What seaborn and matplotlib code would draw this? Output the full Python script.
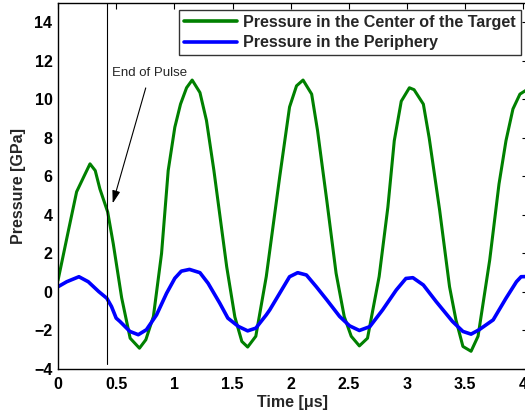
import matplotlib
matplotlib.use("Agg")
import matplotlib.pyplot as plt
import seaborn as sns
import pandas as pd

# ---- data ----
t_center = [0.0, 0.09, 0.16, 0.22, 0.275, 0.32, 0.36, 0.427, 0.475, 0.547, 0.62, 0.70,
            0.755, 0.82, 0.89, 0.947, 1.004, 1.053, 1.105, 1.153, 1.22, 1.276, 1.34,
            1.45, 1.52, 1.58, 1.63, 1.70, 1.79, 1.905, 1.99, 2.05, 2.106, 2.18, 2.23,
            2.31, 2.39, 2.46, 2.52, 2.59, 2.66, 2.76, 2.835, 2.89, 2.95, 3.02, 3.06,
            3.14, 3.19, 3.28, 3.365, 3.42, 3.48, 3.55, 3.61, 3.71, 3.79, 3.85, 3.91,
            3.97, 4.03]
p_center = [0.6, 3.2, 5.2, 5.96, 6.65, 6.3, 5.35, 4.15, 2.5, -0.3, -2.4, -2.92,
            -2.48, -1.27, 2.0, 6.3, 8.55, 9.75, 10.6, 11.0, 10.35, 8.9, 6.3,
            1.3, -1.3, -2.57, -2.86, -2.3, 0.8, 5.96, 9.6, 10.7, 11.0, 10.27, 8.4,
            4.75, 0.97, -1.28, -2.3, -2.8, -2.4, 0.8, 4.4, 7.85, 9.9, 10.6, 10.5,
            9.75, 8.0, 4.24, 0.27, -1.45, -2.83, -3.08, -2.3, 1.65, 5.6, 7.85, 9.5,
            10.27, 10.5]

t_periph = [0.0, 0.075, 0.18, 0.26, 0.35, 0.42, 0.46, 0.50, 0.532, 0.618, 0.69, 0.76,
            0.847, 0.933, 1.004, 1.06, 1.13, 1.22, 1.29, 1.39, 1.46, 1.55, 1.63, 1.70,
            1.79, 1.82, 1.905, 1.99, 2.06, 2.135, 2.22, 2.31, 2.42, 2.506, 2.59, 2.68,
            2.79, 2.907, 2.99, 3.05, 3.14, 3.25, 3.39, 3.48, 3.55, 3.62, 3.74, 3.85,
            3.94, 3.98, 4.03]
p_periph = [0.27, 0.53, 0.79, 0.53, 0.02, -0.33, -0.76, -1.36, -1.53, -2.05, -2.22, -1.96,
            -1.19, -0.07, 0.71, 1.08, 1.17, 1.0, 0.45, -0.58, -1.36, -1.79, -2.02, -1.88,
            -1.19, -0.93, -0.07, 0.79, 1.0, 0.88, 0.27, -0.41, -1.27, -1.76, -2.0, -1.8,
            -0.93, 0.1, 0.7, 0.74, 0.36, -0.5, -1.53, -2.05, -2.19, -1.96, -1.45, -0.33,
            0.53, 0.79, 0.8]

label_center = "Pressure in the Center of the Target"
label_periph = "Pressure in the Periphery"
pulse_end = 0.42
x_ticks = [0, 0.5, 1, 1.5, 2, 2.5, 3, 3.5, 4]
x_ticklabels = ["0", "0.5", "1", "1.5", "2", "2.5", "3", "3.5", "4"]
y_ticks = [-4, -2, 0, 2, 4, 6, 8, 10, 12, 14]

sns.set_theme(style="white")
plt.rcParams["font.family"] = ["Liberation Sans", "DejaVu Sans"]
plt.rcParams["axes.unicode_minus"] = True

df = pd.concat([
    pd.DataFrame({"t": t_center, "p": p_center, "s": label_center}),
    pd.DataFrame({"t": t_periph, "p": p_periph, "s": label_periph}),
])

fig = plt.figure(figsize=(5.25, 4.15), dpi=100)
W, H = 525, 415
ax = fig.add_axes([58 / W, 1 - 369 / H, (527.5 - 58) / W, (369 - 3) / H])

sns.lineplot(data=df, x="t", y="p", hue="s", sort=False, estimator=None,
             palette={label_center: "#008000", label_periph: "#0000ff"},
             linewidth=2.2, ax=ax)
ax.lines[1].set_linewidth(2.6)

ax.plot([pulse_end, pulse_end], [-3.75, 15], color="black", linewidth=0.8)

ax.annotate("End of Pulse", xy=(0.47, 4.6), xytext=(0.79, 11.35),
            ha="center", va="center", fontsize=9.5,
            arrowprops=dict(arrowstyle="-|>,head_length=0.8,head_width=0.25",
                            color="black", lw=0.8, shrinkA=4, shrinkB=0))

ax.set_xlim(0, 4.035)
ax.set_ylim(-4, 15)
ax.set_xticks(x_ticks)
ax.set_xticklabels(x_ticklabels)
ax.set_yticks(y_ticks)
ax.tick_params(direction="in", length=4, width=0.8, top=True, right=True,
               labelsize=11.5, colors="black")
ax.tick_params(axis="x", pad=6)
ax.tick_params(axis="y", pad=4)
for lab in ax.get_xticklabels() + ax.get_yticklabels():
    lab.set_fontweight("bold")
for sp in ax.spines.values():
    sp.set_color("black")
    sp.set_linewidth(1.0)

ax.set_xlabel("Time [\u03bcs]", fontsize=11.5, fontweight="bold", labelpad=2)
ax.set_ylabel("Pressure [GPa]", fontsize=11.5, fontweight="bold", labelpad=6)

leg = ax.legend(loc="upper right", bbox_to_anchor=(0.986, 0.981), fontsize=11.6,
                frameon=True, fancybox=False, handlelength=3.3, handletextpad=0.4,
                borderpad=0.3, labelspacing=0.35, borderaxespad=0)
leg.get_frame().set_edgecolor("black")
leg.get_frame().set_linewidth(1.0)
for txt in leg.get_texts():
    txt.set_fontweight("bold")
for h in leg.get_lines():
    h.set_linewidth(2.6)

fig.savefig("out.png", dpi=100, facecolor="white")
